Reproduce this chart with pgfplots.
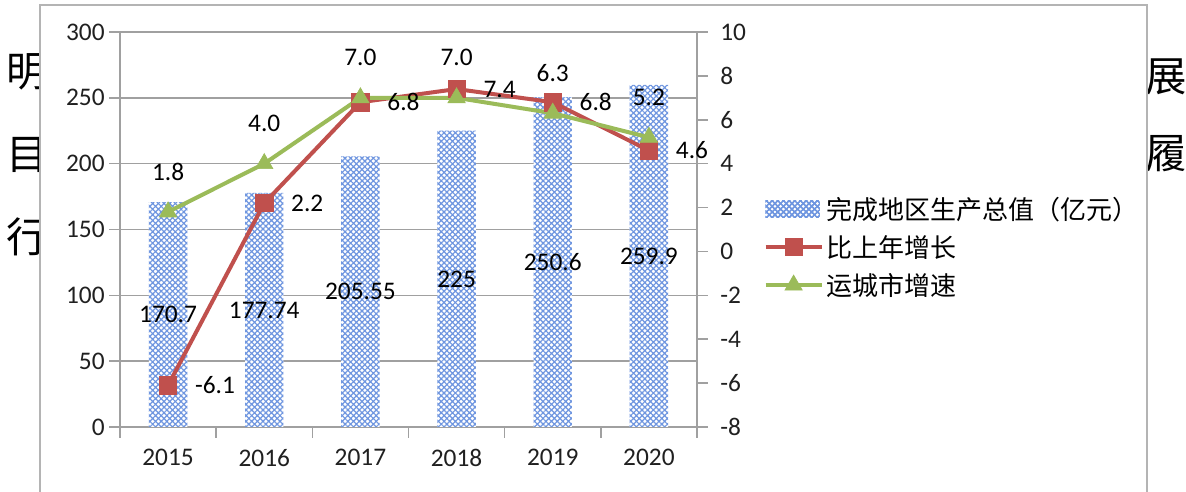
\documentclass[border=0pt]{standalone}
\usepackage{fontspec}
\setmainfont{Carlito}
\newfontfamily\cjk{Noto Sans CJK SC}
\usepackage{pgfplots}
\pgfplotsset{compat=1.18}
\usepackage{pgfplotstable}
\usetikzlibrary{patterns.meta}
\definecolor{redc}{HTML}{C0504D}
\definecolor{greenc}{HTML}{9BBB59}
\definecolor{barc}{HTML}{6F96E0}
\definecolor{gridc}{HTML}{A0A0A0}
\definecolor{framec}{HTML}{B4B4B4}
\definecolor{txt}{HTML}{202020}

\pgfplotstableread{
x gdp rise city
0 170.7 -6.1 1.8
1 177.74 2.2 4.0
2 205.55 6.8 7.0
3 225 7.4 7.0
4 250.6 6.8 6.3
5 259.9 4.6 5.2
}\data

\newcommand{\numfont}{\fontsize{19}{21}\selectfont}
\tikzset{
  barpat/.style={pattern={Hatch[angle=45,distance=3pt,line width=0.9pt]}, pattern color=barc},
  redline/.style={redc, line width=3pt, mark=square*, mark size=6.5pt, mark options={fill=redc, line width=0.5pt}},
  greenline/.style={greenc, line width=3pt, mark=triangle*, mark size=7.5pt, mark options={fill=greenc, line width=0.5pt}},
}

\begin{document}
\begin{tikzpicture}
\begin{scope}
\clip (0pt,0pt) rectangle (889.5pt,369pt);
\node[font=\cjk\fontsize{31}{31}\selectfont] at (20.25pt,315pt) {明};
\node[font=\cjk\fontsize{31}{31}\selectfont] at (20.25pt,252.75pt) {目};
\node[font=\cjk\fontsize{31}{31}\selectfont] at (20.25pt,191.25pt) {行};
\node[font=\cjk\fontsize{31}{31}\selectfont] at (874.5pt,311.25pt) {展};
\node[font=\cjk\fontsize{31}{31}\selectfont] at (874.5pt,253.5pt) {履};
\fill[white] (30pt,-5pt) rectangle (860.25pt,365.25pt);
\draw[framec, line width=0.9pt] (30pt,-5pt) -- (30pt,365.25pt) -- (860.25pt,365.25pt) -- (860.25pt,-5pt);
\end{scope}

\begin{axis}[
  at={(90pt,48.75pt)}, anchor=south west, scale only axis,
  width=432.75pt, height=296.25pt,
  xmin=-0.5, xmax=5.5, ymin=0, ymax=300,
  axis y line*=left, axis x line*=bottom,
  axis line style={gridc, line width=1.2pt},
  ytick={0,50,...,300}, yticklabels={0,50,100,150,200,250,300},
  ymajorgrids, grid style={gridc, line width=1.2pt},
  tick align=outside, major tick length=8pt,
  tick style={gridc, line width=1.2pt},
  xtick={-0.5,0.5,...,5.5}, xticklabels={},
  extra x ticks={0,1,2,3,4,5},
  extra x tick labels={2015,2016,2017,2018,2019,2020},
  extra x tick style={major tick length=0pt, grid=none},
  ticklabel style={font=\numfont, text=txt},
  xticklabel style={yshift=-13pt},
  legend style={at={(1.115,0.59)}, anchor=north west, draw=none, fill=none,
    font=\cjk\fontsize{19.5}{21}\selectfont, row sep=6.5pt, inner sep=0pt},
  legend cell align=left,
]
\addplot[ybar, bar width=0.4, draw=none, fill=white, postaction={barpat},
  legend image code/.code={\fill[white] (0pt,-6.4pt) rectangle (40.5pt,6.4pt);
    \fill[barpat] (0pt,-6.4pt) rectangle (40.5pt,6.4pt);}]
  table[x=x, y=gdp] {\data};
\addlegendentry{完成地区生产总值（亿元）}
\addlegendimage{redline,
  legend image code/.code={\draw[mark repeat=2,mark phase=2,redline] plot coordinates {(0pt,0pt) (21pt,0pt) (42pt,0pt)};}}
\addlegendentry{比上年增长}
\addlegendimage{greenline,
  legend image code/.code={\draw[mark repeat=2,mark phase=2,greenline] plot coordinates {(0pt,0pt) (21pt,0pt) (42pt,0pt)};}}
\addlegendentry{运城市增速}
\addplot[forget plot, draw=none, mark=none, nodes near coords, point meta=explicit symbolic,
  every node near coord/.style={anchor=center, font=\numfont, text=black, inner sep=0pt}]
  table[x=x, y expr=\thisrow{gdp}/2, meta=gdp] {\data};
\end{axis}

\begin{axis}[
  at={(90pt,48.75pt)}, anchor=south west, scale only axis,
  width=432.75pt, height=296.25pt,
  xmin=-0.5, xmax=5.5, ymin=-8, ymax=10,
  axis y line*=right, axis x line*=bottom, xtick=\empty,
  x axis line style={draw=none},
  y axis line style={gridc, line width=1.2pt},
  ytick={-8,-6,...,10}, yticklabels={-8,-6,-4,-2,0,2,4,6,8,10},
  tick align=outside, major tick length=8pt,
  tick style={gridc, line width=1.2pt},
  ticklabel style={font=\numfont, text=txt},
  yticklabel style={xshift=6pt},
]
\addplot[redline, nodes near coords, point meta=explicit symbolic,
  every node near coord/.style={anchor=west, xshift=20pt, font=\numfont, text=black, inner sep=0pt}]
  table[x=x, y=rise, meta=rise] {\data};
\addplot[greenline, nodes near coords, point meta=explicit symbolic,
  every node near coord/.style={anchor=center, yshift=30pt, font=\numfont, text=black, inner sep=0pt}]
  table[x=x, y=city, meta=city] {\data};
\end{axis}
\pgfresetboundingbox
\useasboundingbox (0pt,0pt) rectangle (889.5pt,369pt);
\end{tikzpicture}
\end{document}
